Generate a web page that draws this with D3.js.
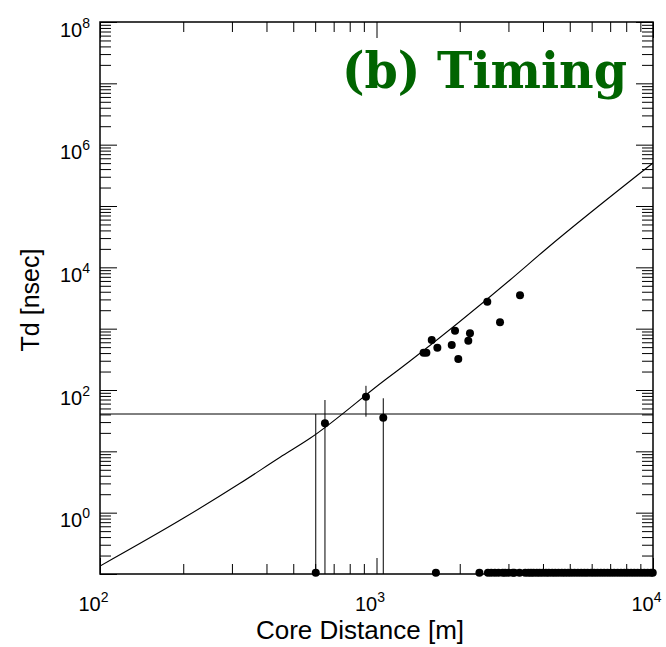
<!DOCTYPE html>
<html>
<head>
<meta charset="utf-8">
<script src="https://cdn.jsdelivr.net/npm/d3@7"></script>
<style>
  body { margin: 0; background: #fff; }
</style>
</head>
<body>
<svg id="chart"></svg>
<script>
var width = 666;
var height = 647;
var margin = ({top: 22, right: 13, bottom: 73, left: 100});

// fitted Td curve
var curveDist = [100, 200, 321, 448, 575, 1073, 1199, 1322, 3040, 4069, 10000];
var curveTd = [0.135, 0.809, 3.01, 8.0, 16.3, 145.5, 212, 297, 6223, 19190, 502300];

// stations with a timing value
var hitDist = [1480, 1515, 1584, 1660, 1923, 1871, 1976, 2178, 2148, 2516, 2797, 3304];
var hitTd = [406, 406, 653, 490, 927, 542, 320, 841, 637, 2754, 1270, 3500];

// stations near threshold, with error bars
var barDist = [603, 651, 916, 1058];
var barTd = [0.105, 28.6, 77.8, 35.4];
var barLow = [0.1, 0.1, 36.7, 0.1];
var barHigh = [40.6, 68.7, 117, 73.3];

// stations without signal (drawn on the bottom edge)
var zeroDist = [1640, 2356, 2530, 2600, 2680, 2760, 2860, 2920, 3000, 3110, 3150, 3290,
  3450, 3540, 3620, 3700, 3800, 3890, 3990, 4100, 4200, 4320, 4430, 4550, 4680, 4800,
  4930, 5060, 5200, 5350, 5500, 5650, 5800, 5970, 6130, 6300, 6480, 6660, 6850, 7040,
  7240, 7450, 7660, 7880, 8100, 8330, 8560, 8800, 9050, 9300, 9560, 9830, 9980];
var zeroTd = 0.105;

var threshold = 40.6;

var xMajor = [100, 1000, 10000];
var yMajor = [1e-1, 1e0, 1e1, 1e2, 1e3, 1e4, 1e5, 1e6, 1e7, 1e8];
var yLabeled = [1e0, 1e2, 1e4, 1e6, 1e8];

var x = d3.scaleLog()
    .domain([100, 10000])
    .range([margin.left, width - margin.right]);

var y = d3.scaleLog()
    .domain([1e-1, 1e8])
    .range([height - margin.bottom, margin.top]);

// minor ticks between the decades
function minors(majors) {
    var out = [];
    for (var i = 0; i < majors.length - 1; i++) {
        for (var k = 2; k <= 9; k++) out.push(majors[i] * k);
    }
    return out;
}
var xMinor = minors(xMajor);
var yMinor = minors(yMajor);

var svg = d3.select("#chart")
    .attr("width", width)
    .attr("height", height)
    .attr("viewBox", [0, 0, width, height])
    .style("font-family", "'Liberation Sans', Arial, sans-serif");

svg.append("defs").append("clipPath").attr("id", "clip")
    .append("rect")
    .attr("x", margin.left).attr("y", margin.top)
    .attr("width", width - margin.left - margin.right)
    .attr("height", height - margin.top - margin.bottom);

var bottom = height - margin.bottom;
var right = width - margin.right;

function styleAxis(g) {
    g.select(".domain").remove();
    g.attr("font-family", null);
    g.selectAll(".tick line").attr("stroke", "#000").attr("stroke-width", 1);
}

// minor ticks, all four sides, pointing inward
svg.append("g").attr("transform", `translate(0,${bottom})`)
    .call(d3.axisBottom(x).tickValues(xMinor).tickSize(-10).tickFormat(""))
    .call(styleAxis);
svg.append("g").attr("transform", `translate(0,${margin.top})`)
    .call(d3.axisTop(x).tickValues(xMinor).tickSize(-10).tickFormat(""))
    .call(styleAxis);
svg.append("g").attr("transform", `translate(${margin.left},0)`)
    .call(d3.axisLeft(y).tickValues(yMinor).tickSize(-11).tickFormat(""))
    .call(styleAxis);
svg.append("g").attr("transform", `translate(${right},0)`)
    .call(d3.axisRight(y).tickValues(yMinor).tickSize(-11).tickFormat(""))
    .call(styleAxis);

// major ticks
svg.append("g").attr("transform", `translate(0,${margin.top})`)
    .call(d3.axisTop(x).tickValues(xMajor).tickSize(-16).tickFormat(""))
    .call(styleAxis);
svg.append("g").attr("transform", `translate(${right},0)`)
    .call(d3.axisRight(y).tickValues(yMajor).tickSize(-17).tickFormat(""))
    .call(styleAxis);

function supLabel(text) {
    text.each(function(d) {
        var t = d3.select(this);
        var e = Math.round(Math.log10(d));
        t.text(null);
        t.append("tspan").text("10");
        t.append("tspan").attr("dy", "-0.62em").attr("font-size", "14px").text(e);
    });
}

var xAxis = svg.append("g")
    .attr("transform", `translate(0,${bottom})`)
    .call(d3.axisBottom(x).tickValues(xMajor).tickSize(-16).tickPadding(20))
    .call(styleAxis);
xAxis.selectAll(".tick text")
    .attr("font-size", "20px")
    .attr("fill", "#000")
    .attr("text-anchor", "middle")
    .attr("x", -7)
    .attr("y", 37)
    .attr("dy", null)
    .call(supLabel);

var yAxis = svg.append("g")
    .attr("transform", `translate(${margin.left},0)`)
    .call(d3.axisLeft(y).tickValues(yMajor).tickSize(-17).tickFormat((d) => yLabeled.indexOf(d) >= 0 ? "L" : ""))
    .call(styleAxis);
yAxis.selectAll(".tick text")
    .filter((d) => yLabeled.indexOf(d) >= 0)
    .attr("font-size", "20px")
    .attr("fill", "#000")
    .attr("text-anchor", "end")
    .attr("x", -10)
    .attr("y", 14)
    .attr("dy", null)
    .call(supLabel);

// frame
svg.append("rect")
    .attr("x", margin.left).attr("y", margin.top)
    .attr("width", right - margin.left)
    .attr("height", bottom - margin.top)
    .attr("fill", "none")
    .attr("stroke", "#000")
    .attr("stroke-width", 1.5);

var plot = svg.append("g").attr("clip-path", "url(#clip)");

// threshold line
plot.append("line")
    .attr("x1", margin.left).attr("x2", right)
    .attr("y1", y(threshold)).attr("y2", y(threshold))
    .attr("stroke", "#000").attr("stroke-width", 1);

// fitted curve
var curvePts = curveDist.map((d, i) => [x(d), y(curveTd[i])]);
plot.append("path")
    .datum(curvePts)
    .attr("fill", "none")
    .attr("stroke", "#000")
    .attr("stroke-width", 1.1)
    .attr("d", d3.line().curve(d3.curveMonotoneX));

// error bars
plot.selectAll(".bar")
    .data(barDist)
    .join("line")
    .attr("class", "bar")
    .attr("x1", (d) => x(d)).attr("x2", (d) => x(d))
    .attr("y1", (d, i) => y(barLow[i])).attr("y2", (d, i) => y(barHigh[i]))
    .attr("stroke", "#000").attr("stroke-width", 1);

var dots = svg.append("g");
dots.selectAll(".zero")
    .data(zeroDist)
    .join("circle")
    .attr("cx", (d) => x(d))
    .attr("cy", y(zeroTd))
    .attr("r", 4);
dots.selectAll(".bardot")
    .data(barDist)
    .join("circle")
    .attr("cx", (d) => x(d))
    .attr("cy", (d, i) => y(barTd[i]))
    .attr("r", 4);
dots.selectAll(".hit")
    .data(hitDist)
    .join("circle")
    .attr("cx", (d) => x(d))
    .attr("cy", (d, i) => y(hitTd[i]))
    .attr("r", 4);

// axis titles
svg.append("text")
    .attr("x", 360).attr("y", 639)
    .attr("text-anchor", "middle")
    .attr("font-size", "26px")
    .text("Core Distance [m]");

svg.append("text")
    .attr("transform", "translate(39,300) rotate(-90)")
    .attr("text-anchor", "middle")
    .attr("font-size", "25px")
    .text("Td [nsec]");

// panel title
svg.append("text")
    .attr("x", 342).attr("y", 88)
    .attr("textLength", 285)
    .attr("lengthAdjust", "spacingAndGlyphs")
    .style("font-family", "'DejaVu Serif', serif")
    .style("font-weight", "bold")
    .style("font-size", "51px")
    .attr("fill", "#006400")
    .text("(b) Timing");
</script>
</body>
</html>
